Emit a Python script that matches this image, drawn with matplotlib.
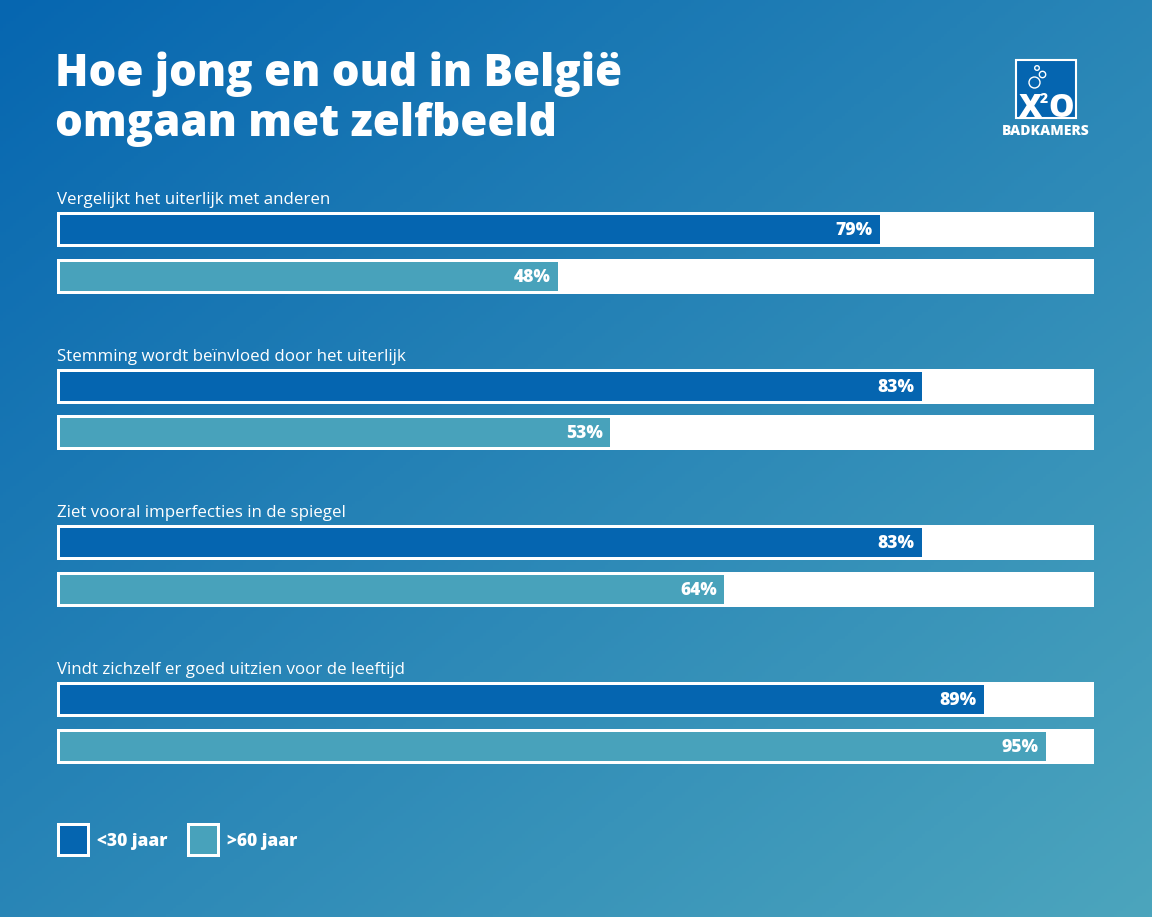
import matplotlib
matplotlib.use("Agg")
import matplotlib.pyplot as plt
import numpy as np
from matplotlib.patches import Rectangle, Ellipse

# data
categories = [
    "Vergelijkt het uiterlijk met anderen",
    "Stemming wordt beïnvloed door het uiterlijk",
    "Ziet vooral imperfecties in de spiegel",
    "Vindt zichzelf er goed uitzien voor de leeftijd",
]
young = [79, 83, 83, 89]
old = [48, 53, 64, 95]
series_labels = ["<30 jaar", ">60 jaar"]
title_lines = ["Hoe jong en oud in België", "omgaan met zelfbeeld"]

W, H = 1152, 917
PX = 10.38   # pixels per percent
X0 = 60      # pixel where 0% sits
dark = "#0565b0"
light = "#48a2bb"
FONT = "Open Sans"

def px(xp):
    # pixel x -> data x (percent)
    return (xp - X0) / PX

fig = plt.figure(figsize=(W / 100, H / 100), dpi=100)
ax = fig.add_axes([0, 0, 1, 1])
xmin, xmax = px(0), px(W)

# background gradient, dark top-left to teal bottom-right
yy, xx = np.mgrid[0:1:300j, 0:1:360j]
t = (xx + yy) / 2
c0 = np.array([0x06, 0x66, 0xb0]) / 255
c1 = np.array([0x4c, 0xa5, 0xbd]) / 255
img = c0 + (c1 - c0) * t[..., None]
ax.imshow(img, extent=(xmin, xmax, H, 0), aspect="auto", zorder=0)

# title
for k, line in enumerate(title_lines):
    ax.text(px(55), 86 + 50 * k, line, color="white", fontsize=31.5,
            fontweight="heavy", family=FONT, va="baseline", ha="left")

# bars
track_left = px(57)
track_w = px(1094) - track_left
for i, cat in enumerate(categories):
    top = 212 + 156.7 * i
    ax.text(track_left, top - 8, cat, color="white", fontsize=12.2,
            family=FONT, fontweight="medium", va="baseline", ha="left")
    for j, (val, col) in enumerate([(young[i], dark), (old[i], light)]):
        yc = top + 17.5 + 46.5 * j
        ax.barh(yc, track_w, left=track_left, height=35, color="white", zorder=2)
        ax.barh(yc, val, left=0, height=29, color=col, zorder=3)
        ax.text(val - 0.7, yc + 1, f"{val}%", color="white", fontsize=12.5,
                fontweight="heavy", family=FONT, ha="right", va="center", zorder=4)

# legend
for k, (lab, col) in enumerate(zip(series_labels, [dark, light])):
    lx = 57 + 130 * k
    ax.add_patch(Rectangle((px(lx), 823), 33 / PX, 34, facecolor="white", zorder=2))
    ax.add_patch(Rectangle((px(lx + 3), 826), 27 / PX, 28, facecolor=col, zorder=3))
    ax.text(px(lx + 40), 841, lab, color="white", fontsize=12.5, fontweight="heavy",
            family=FONT, ha="left", va="center")

# logo
ax.add_patch(Rectangle((px(1016), 60), 60 / PX, 58, facecolor=dark,
                       edgecolor="white", linewidth=1.5, zorder=2))
for bx, by, r in [(1037, 68, 2.3), (1042.5, 74.5, 3.2), (1034.5, 82.5, 5.5)]:
    ax.add_patch(Ellipse((px(bx), by), 2 * r / PX, 2 * r, facecolor="none",
                         edgecolor="white", linewidth=1, zorder=3))
ax.text(px(1030), 117, "X", color="white", fontsize=23, fontweight="heavy",
        family=FONT, ha="center", va="baseline", zorder=4)
ax.text(px(1044), 103, "2", color="white", fontsize=10, fontweight="heavy",
        family=FONT, ha="center", va="baseline", zorder=4)
ax.text(px(1061), 117, "O", color="white", fontsize=23, fontweight="heavy",
        family=FONT, ha="center", va="baseline", zorder=4)
ax.text(px(1045.5), 131, "BADKAMERS", color="white", fontsize=10, fontweight="heavy",
        family=FONT, ha="center", va="center")

ax.set_xlim(xmin, xmax)
ax.set_ylim(H, 0)
ax.axis("off")

fig.savefig("out.png", dpi=100)
